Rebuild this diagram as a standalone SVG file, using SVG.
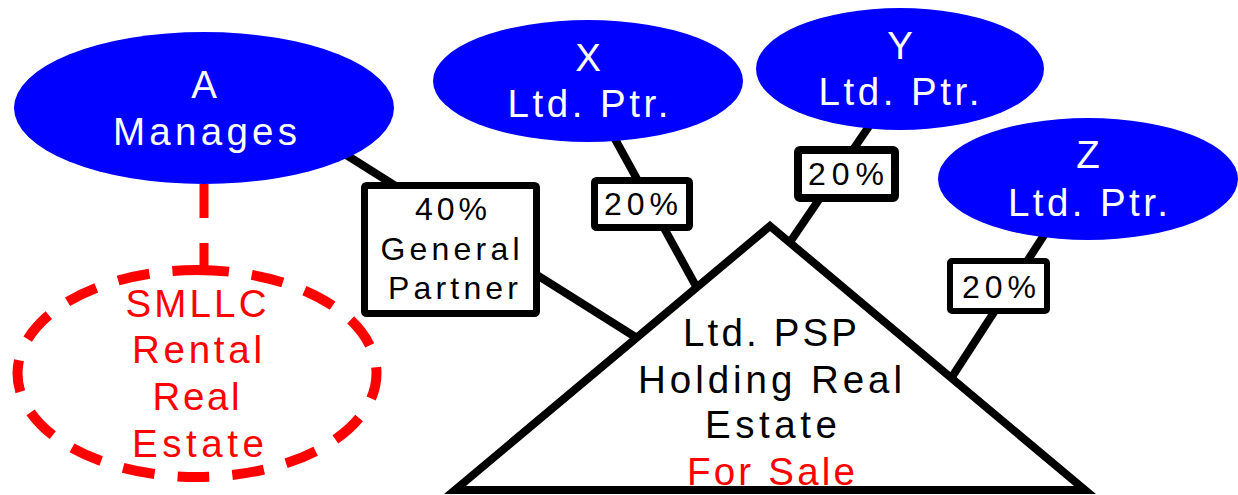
<svg xmlns="http://www.w3.org/2000/svg" width="1238" height="495" viewBox="0 0 1238 495">
<style>
.conn{stroke:#000;stroke-width:8;fill:none}
.blue{fill:#0000FF}
.wt{fill:#fff;font-family:"Liberation Sans",Arial,sans-serif;font-size:38.5px;text-anchor:middle}
.bt{fill:#000;font-family:"Liberation Sans",Arial,sans-serif;font-size:38.5px;text-anchor:middle}
.rt{fill:#FF0000;font-family:"Liberation Sans",Arial,sans-serif;font-size:38.5px;text-anchor:middle}
.box{fill:#fff;stroke:#000}
.lt{fill:#000;font-family:"Liberation Sans",Arial,sans-serif;font-size:32px;text-anchor:middle}
</style>
<rect width="1238" height="495" fill="#fff"/>
<g id="connectors">
<line class="conn" x1="340" y1="151" x2="637" y2="338"/>
<line class="conn" x1="610" y1="130" x2="697" y2="288"/>
<line class="conn" x1="876" y1="116" x2="788" y2="245"/>
<line class="conn" x1="1050" y1="226" x2="950" y2="380"/>
<path d="M204 184 V270" stroke="#FF0000" stroke-width="9" fill="none" stroke-dasharray="34 25"/>
</g>
<g id="triangle">
<polygon points="770,226 1085,490 455,490" fill="#fff" stroke="#000" stroke-width="8" stroke-linejoin="miter"/>
<text class="bt" x="770" y="346" textLength="174" lengthAdjust="spacing">Ltd. PSP</text>
<text class="bt" x="770" y="393" textLength="264" lengthAdjust="spacing">Holding Real</text>
<text class="bt" x="771" y="438" textLength="132" lengthAdjust="spacing">Estate</text>
<text class="rt" x="771" y="485" textLength="168" lengthAdjust="spacing">For Sale</text>
</g>
<g id="nodeA">
<ellipse class="blue" cx="204" cy="108" rx="190" ry="76"/>
<text class="wt" x="204" y="98">A</text>
<text class="wt" x="205" y="145" textLength="184" lengthAdjust="spacing">Manages</text>
</g>
<g id="nodeX">
<ellipse class="blue" cx="588" cy="81" rx="155" ry="61"/>
<text class="wt" x="588" y="71">X</text>
<text class="wt" x="588" y="117" textLength="161" lengthAdjust="spacing">Ltd. Ptr.</text>
</g>
<g id="nodeY">
<ellipse class="blue" cx="900" cy="69" rx="144" ry="61"/>
<text class="wt" x="900" y="59">Y</text>
<text class="wt" x="899" y="105" textLength="161" lengthAdjust="spacing">Ltd. Ptr.</text>
</g>
<g id="nodeZ">
<ellipse class="blue" cx="1088" cy="179" rx="150" ry="61"/>
<text class="wt" x="1088" y="168">Z</text>
<text class="wt" x="1088" y="216" textLength="160" lengthAdjust="spacing">Ltd. Ptr.</text>
</g>
<g id="smllc">
<path d="M197 270 A179.5 103.5 0 1 1 197 477 A179.5 103.5 0 1 1 197 270 Z" fill="none" stroke="#FF0000" stroke-width="10" stroke-dasharray="32 23"/>
<text class="rt" x="196" y="317" textLength="141" lengthAdjust="spacing">SMLLC</text>
<text class="rt" x="197" y="363" textLength="130" lengthAdjust="spacing">Rental</text>
<text class="rt" x="196" y="410" textLength="87" lengthAdjust="spacing">Real</text>
<text class="rt" x="198" y="457" textLength="132" lengthAdjust="spacing">Estate</text>
</g>
<g id="gp40">
<rect class="box" x="364.5" y="185.5" width="172" height="128" rx="2" stroke-width="7"/>
<text class="lt" x="451" y="220" textLength="72" lengthAdjust="spacing">40%</text>
<text class="lt" x="450" y="260" textLength="139" lengthAdjust="spacing">General</text>
<text class="lt" x="453" y="299" textLength="130" lengthAdjust="spacing">Partner</text>
</g>
<g id="pctX">
<rect class="box" x="594.5" y="180.5" width="95" height="47" rx="2" stroke-width="7"/>
<text class="lt" x="641" y="215" textLength="74" lengthAdjust="spacing">20%</text>
</g>
<g id="pctY">
<rect class="box" x="798" y="150" width="97" height="48" rx="2" stroke-width="8"/>
<text class="lt" x="846" y="185" textLength="76" lengthAdjust="spacing">20%</text>
</g>
<g id="pctZ">
<rect class="box" x="950" y="261" width="97" height="50" rx="2" stroke-width="6"/>
<text class="lt" x="999" y="298" textLength="74" lengthAdjust="spacing">20%</text>
</g>
</svg>
